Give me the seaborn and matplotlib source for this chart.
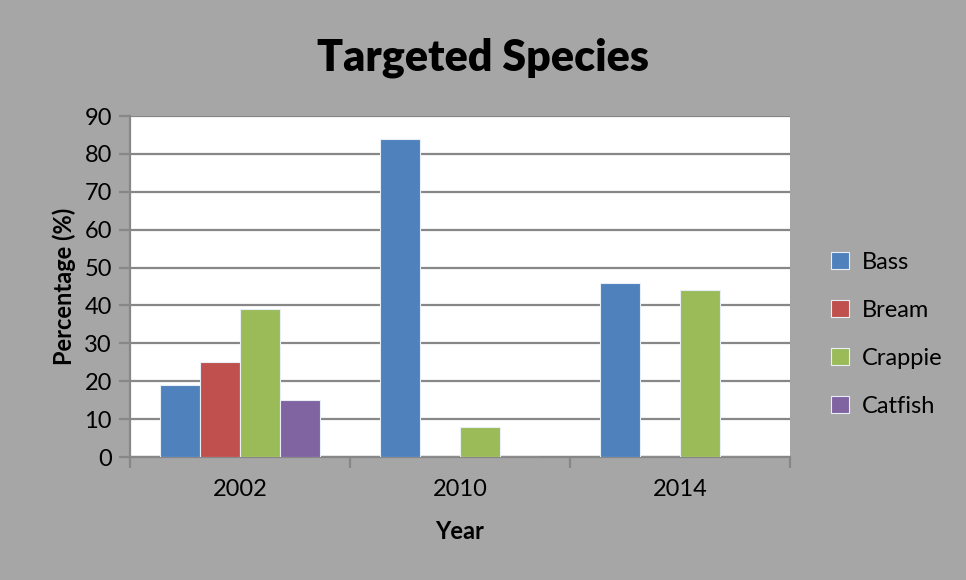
import matplotlib
matplotlib.use("Agg")
import matplotlib.pyplot as plt
import seaborn as sns
import pandas as pd

# dados
anos = ['2002', '2010', '2014']
especies = ['Bass', 'Bream', 'Crappie', 'Catfish']
bass = [19, 84, 46]
bream = [25, 0, 0]
crappie = [39, 8, 44]
catfish = [15, 0, 0]
cores = ['#4F81BD', '#C0504D', '#9BBB59', '#8064A2']

linhas = []
for nome, vals in zip(especies, [bass, bream, crappie, catfish]):
    for ano, v in zip(anos, vals):
        linhas.append({'Year': ano, 'Species': nome, 'Pct': v})
df = pd.DataFrame(linhas)

sns.set_style('white')
plt.rcParams['font.family'] = ['Lato', 'DejaVu Sans']
plt.rcParams['text.color'] = 'black'
plt.rcParams['xtick.color'] = 'black'
plt.rcParams['ytick.color'] = 'black'
plt.rcParams['axes.labelcolor'] = 'black'

fundo = '#A6A6A6'
fig = plt.figure(figsize=(9.66, 5.8), dpi=100, facecolor=fundo)
ax = fig.add_axes([0.1346, 0.212, 0.6832, 0.588])
ax.set_facecolor('white')

sns.barplot(data=df, x='Year', y='Pct', hue='Species', hue_order=especies,
            palette=cores, saturation=1, width=0.727, errorbar=None, ax=ax,
            edgecolor='#E8EEF6', linewidth=0.8, zorder=3)

ax.set_ylim(0, 90)
ax.set_xlim(-0.5, 2.5)
ax.set_yticks(range(0, 91, 10))
ax.yaxis.grid(True, color='#878787', linewidth=1.6, zorder=0)
ax.set_axisbelow(True)

for s in ['top', 'right']:
    ax.spines[s].set_visible(False)
for s in ['left', 'bottom']:
    ax.spines[s].set_color('#878787')
    ax.spines[s].set_linewidth(1.6)

ax.tick_params(axis='y', length=8, width=1.6, color='#878787', labelcolor='black',
               labelsize=17, pad=5, left=True)
ax.tick_params(axis='x', which='major', length=0, labelsize=17, pad=16, labelcolor='black')
ax.set_xticks([-0.5, 0.5, 1.5, 2.5], minor=True)
ax.tick_params(axis='x', which='minor', length=8, width=1.6, color='#878787', bottom=True)

ax.set_xlabel('Year', fontsize=17, fontweight='bold', labelpad=14)
ax.set_ylabel('Percentage (%)', fontsize=17, fontweight='bold', labelpad=6)

fig.suptitle('Targeted Species', fontsize=31, fontweight='heavy', y=0.935)

ax.legend(loc='center left', bbox_to_anchor=(1.03, 0.36), frameon=False,
          fontsize=17, labelspacing=1.15, handlelength=0.75, handleheight=0.75,
          handletextpad=0.55)

fig.savefig('out.png', dpi=100, facecolor=fundo)
